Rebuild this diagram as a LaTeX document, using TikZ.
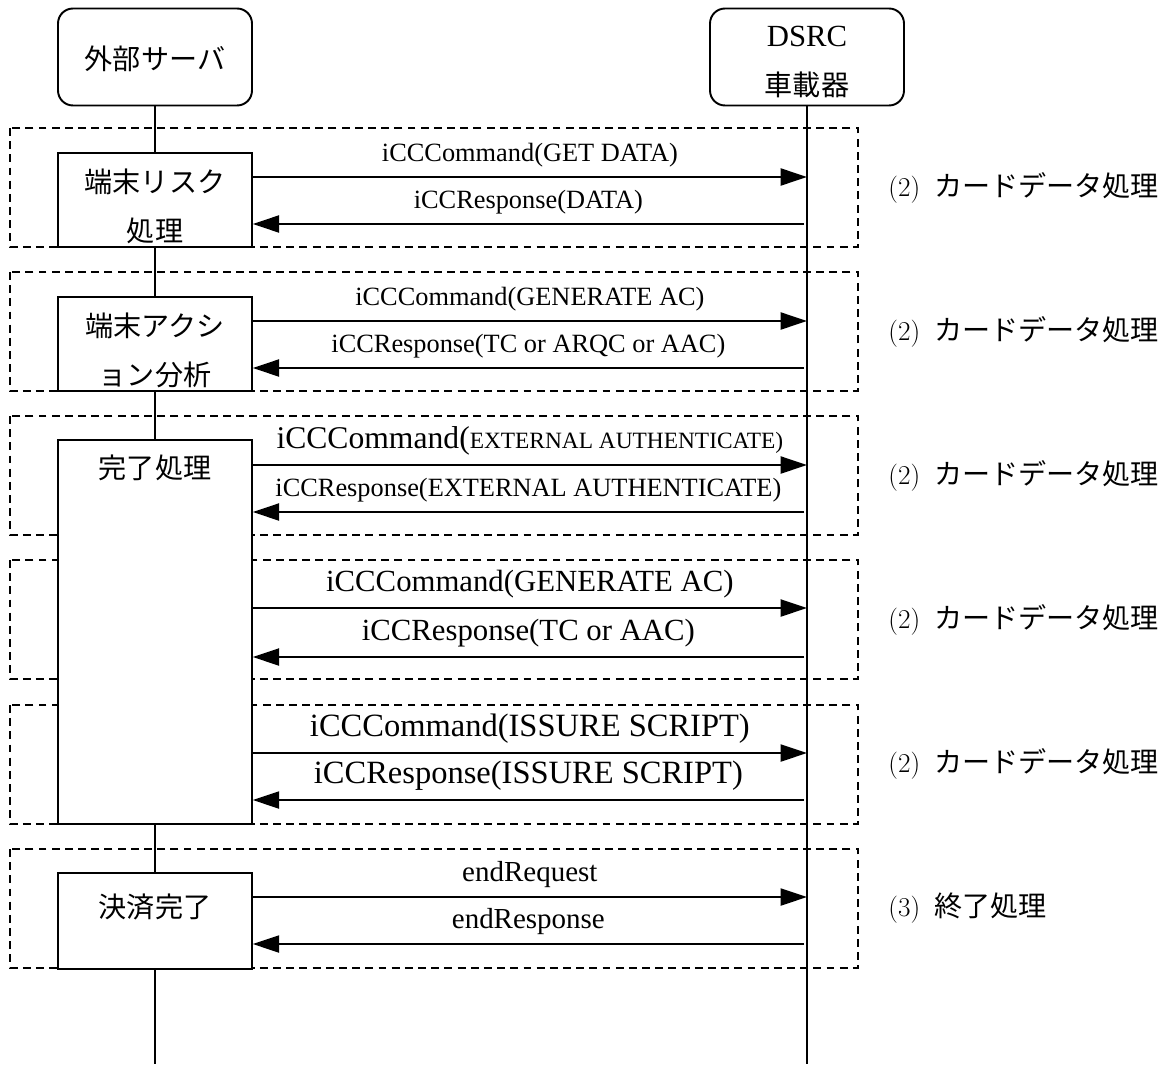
\documentclass[tikz,border=0pt]{standalone}
\usepackage{fontspec}
\newfontfamily\jpfont{Noto Sans CJK JP}
\newfontfamily\msgfont{Liberation Serif}
\usetikzlibrary{arrows.meta, positioning}
\tikzset{
  actor/.style={draw, line width=1.1pt, rounded corners=8.5pt, fill=white,
                minimum width=3.88cm, minimum height=1.94cm, align=center,
                font=\jpfont\fontsize{16}{28}\selectfont},
  actbox/.style={draw, line width=0.85pt, fill=white, minimum width=3.88cm},
  boxtxt/.style={font=\jpfont\fontsize{16}{28}\selectfont, align=center, inner sep=0pt},
  phase/.style={dash pattern=on 4.5pt off 3pt, line width=0.85pt},
  lifeline/.style={line width=0.85pt},
  msg/.style={-{Triangle[length=15pt, width=9.7pt]}, line width=1.1pt},
  msgtxt/.style={font=\msgfont\fontsize{15}{17}\selectfont, inner sep=2pt, above=3pt},
  bigtxt/.style={font=\msgfont\fontsize{17.5}{20}\selectfont, inner sep=2pt, above=3pt},
  sidetxt/.style={anchor=west, inner sep=0pt, font=\jpfont\fontsize{16}{20}\selectfont},
}
\newcommand{\phnum}[1]{{\rmfamily\fontsize{15.5}{20}\selectfont(#1)}\hspace{8pt}}

\begin{document}
\begin{tikzpicture}[x=0.02cm, y=-0.02cm]
  \useasboundingbox (0,0) rectangle (1175,1064);

  % lifelines
  \node[actor] (srv) at (155,57) {};
  \node[boxtxt] (srvtxt) at (155,59) {外部サーバ};
  \node[actor] (obu) at (807,57) {};
  \node[boxtxt] (obutxt) at (807,62) {{\msgfont\fontsize{17.5}{28}\selectfont DSRC}\\車載器};
  \coordinate (srvend) at (155,1064);
  \coordinate (obuend) at (807,1064);
  \draw[lifeline] (srv.south) -- (srvend);
  \draw[lifeline] (obu.south) -- (obuend);

  % phases
  \foreach \t in {128,272,416,560,705,849}
    \draw[phase] (10,\t) rectangle (858,\t+119);

  % activation boxes
  \node[actbox, minimum height=1.88cm] (risk) at (155,200) {};
  \node[boxtxt] (risktxt) at (155,206) {端末リスク\\処理};
  \node[actbox, minimum height=1.88cm] (action) at (155,344) {};
  \node[boxtxt] (actiontxt) at (155,350) {端末アクシ\\ョン分析};
  \node[actbox, minimum height=7.68cm] (done) at (155,632) {};
  \node[boxtxt] (donetxt) at (155,468) {完了処理};
  \node[actbox, minimum height=1.92cm] (settle) at (155,921) {};
  \node[boxtxt] (settletxt) at (155,907) {決済完了};

  % messages
  \coordinate (c1) at (807,177); \coordinate (r1) at (804,224);
  \draw[msg] (risk.east |- c1) -- (c1) node[msgtxt, midway] {iCCCommand(GET DATA)};
  \draw[msg] (r1) -- (risk.east |- r1) node[msgtxt, midway] {iCCResponse(DATA)};

  \coordinate (c2) at (807,321); \coordinate (r2) at (804,368);
  \draw[msg] (action.east |- c2) -- (c2) node[msgtxt, midway] {iCCCommand(GENERATE AC)};
  \draw[msg] (r2) -- (action.east |- r2) node[msgtxt, midway] {iCCResponse(TC or ARQC or AAC)};

  \coordinate (c3) at (807,465); \coordinate (r3) at (804,512);
  \draw[msg] (done.east |- c3) -- (c3)
    node[bigtxt, midway, font=\msgfont\fontsize{18}{20}\selectfont]
      {iCCCommand({\fontsize{13.3}{16}\selectfont EXTERNAL AUTHENTICATE)}};
  \draw[msg] (r3) -- (done.east |- r3)
    node[msgtxt, midway] {iCCResponse(EXTERNAL AUTHENTICATE)};

  \coordinate (c4) at (807,608); \coordinate (r4) at (804,657);
  \draw[msg] (done.east |- c4) -- (c4) node[bigtxt, midway] {iCCCommand(GENERATE AC)};
  \draw[msg] (r4) -- (done.east |- r4) node[bigtxt, midway] {iCCResponse(TC or AAC)};

  \coordinate (c5) at (807,753); \coordinate (r5) at (804,800);
  \draw[msg] (done.east |- c5) -- (c5)
    node[bigtxt, midway, font=\msgfont\fontsize{18.5}{20}\selectfont] {iCCCommand(ISSURE SCRIPT)};
  \draw[msg] (r5) -- (done.east |- r5)
    node[bigtxt, midway, font=\msgfont\fontsize{18.5}{20}\selectfont] {iCCResponse(ISSURE SCRIPT)};

  \coordinate (c6) at (807,897); \coordinate (r6) at (804,944);
  \draw[msg] (settle.east |- c6) -- (c6)
    node[msgtxt, midway, font=\msgfont\fontsize{16.5}{18}\selectfont] {endRequest};
  \draw[msg] (r6) -- (settle.east |- r6)
    node[msgtxt, midway, font=\msgfont\fontsize{16.5}{18}\selectfont] {endResponse};

  % phase labels
  \node[sidetxt] (ph1) at (888,188) {\phnum{2}カードデータ処理};
  \node[sidetxt] (ph2) at (888,332) {\phnum{2}カードデータ処理};
  \node[sidetxt] (ph3) at (888,476) {\phnum{2}カードデータ処理};
  \node[sidetxt] (ph4) at (888,620) {\phnum{2}カードデータ処理};
  \node[sidetxt] (ph5) at (888,764) {\phnum{2}カードデータ処理};
  \node[sidetxt] (ph6) at (888,908) {\phnum{3}終了処理};
\end{tikzpicture}
\end{document}
